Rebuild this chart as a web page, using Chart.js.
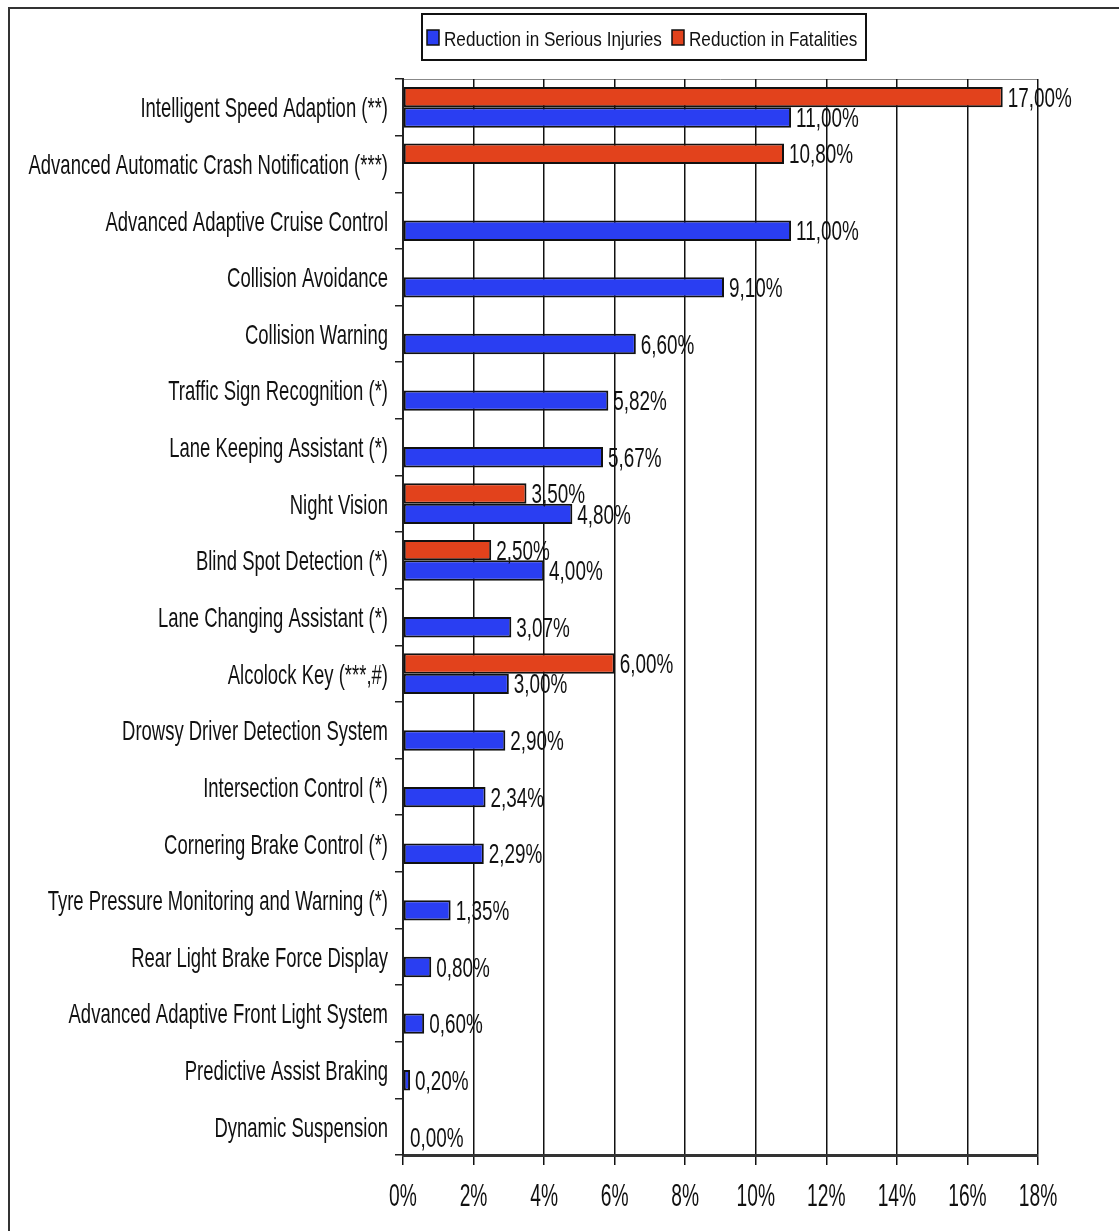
<!DOCTYPE html>
<html>
<head>
<meta charset="utf-8">
<script src="https://cdn.jsdelivr.net/npm/chart.js@4.4.0/dist/chart.umd.min.js"></script>
<style>
  html, body { margin: 0; padding: 0; background: #fff; }
  #wrap { width: 1119px; height: 1231px; position: relative; }
</style>
</head>
<body>
<div id="wrap"><canvas id="safetyChart"></canvas></div>
<script>
const categories = [
  'Intelligent Speed Adaption (**)',
  'Advanced Automatic Crash Notification (***)',
  'Advanced Adaptive Cruise Control',
  'Collision Avoidance',
  'Collision Warning',
  'Traffic Sign Recognition (*)',
  'Lane Keeping Assistant (*)',
  'Night Vision',
  'Blind Spot Detection (*)',
  'Lane Changing Assistant (*)',
  'Alcolock Key (***,#)',
  'Drowsy Driver Detection System',
  'Intersection Control (*)',
  'Cornering Brake Control (*)',
  'Tyre Pressure Monitoring and Warning (*)',
  'Rear Light Brake Force Display',
  'Advanced Adaptive Front Light System',
  'Predictive Assist Braking',
  'Dynamic Suspension'
];
const seriousInjuries = [11.00, null, 11.00, 9.10, 6.60, 5.82, 5.67, 4.80, 4.00, 3.07, 3.00, 2.90, 2.34, 2.29, 1.35, 0.80, 0.60, 0.20, 0.00];
const fatalities = [17.00, 10.80, null, null, null, null, null, 3.50, 2.50, null, 6.00, null, null, null, null, null, null, null, null];
const seriesNames = ['Reduction in Serious Injuries', 'Reduction in Fatalities'];
const xMax = 18;
const xStep = 2;

const FONT = "'Liberation Sans', Arial, sans-serif";
const RED = '#e2421c';
const BLUE = '#2a3ef2';
const INK = '#111';

// plot area edges in the reference
const PLOT_LEFT = 403;
const PLOT_RIGHT = 1038;
const PLOT_TOP = 79;
const PLOT_BOTTOM = 1155;

function pct(v) {
  return v.toFixed(2).replace('.', ',') + '%';
}

// the original uses a very narrow face, so squeeze the text horizontally
function squeezedText(ctx, text, x, y, size, squeeze, align) {
  ctx.save();
  ctx.font = size + 'px ' + FONT;
  ctx.fillStyle = INK;
  ctx.textAlign = align;
  ctx.textBaseline = 'alphabetic';
  ctx.translate(x, y + size * 0.716 / 2);
  ctx.scale(squeeze, 1);
  ctx.fillText(text, 0, 0);
  ctx.restore();
}

// Frame around the whole figure, top line of the plot and the legend
const framePlugin = {
  id: 'frame',
  beforeDraw(chart) {
    const ctx = chart.ctx;
    ctx.save();
    ctx.fillStyle = '#fff';
    ctx.fillRect(0, 0, chart.width, chart.height);
    ctx.strokeStyle = '#333';
    ctx.lineWidth = 2;
    ctx.beginPath();
    ctx.moveTo(9, chart.height + 5);
    ctx.lineTo(9, 8);
    ctx.lineTo(chart.width + 5, 8);
    ctx.stroke();
    const a = chart.chartArea;
    ctx.strokeStyle = '#888';
    ctx.lineWidth = 1;
    ctx.beginPath();
    ctx.moveTo(a.left, a.top + 0.5);
    ctx.lineTo(a.right, a.top + 0.5);
    ctx.stroke();
    ctx.restore();
  },
  afterDraw(chart) {
    const ctx = chart.ctx;
    // legend box
    ctx.save();
    ctx.strokeStyle = INK;
    ctx.lineWidth = 2;
    ctx.strokeRect(422, 14, 444, 46);
    const items = [
      { name: seriesNames[0], color: BLUE, x: 427 },
      { name: seriesNames[1], color: RED, x: 672 }
    ];
    items.forEach(it => {
      ctx.fillStyle = it.color;
      ctx.fillRect(it.x, 30, 12, 15);
      ctx.lineWidth = 1.5;
      ctx.strokeRect(it.x, 30, 12, 15);
      squeezedText(ctx, it.name, it.x + 17, 38, 21, 0.815, 'left');
    });
    ctx.restore();
  }
};

// Category names, x tick labels and value labels
const textPlugin = {
  id: 'texts',
  afterDatasetsDraw(chart) {
    const ctx = chart.ctx;
    const yScale = chart.scales.y;
    const xScale = chart.scales.x;

    categories.forEach((name, i) => {
      squeezedText(ctx, name, 388, yScale.getPixelForTick(i), 28, 0.66, 'right');
    });

    xScale.ticks.forEach(t => {
      squeezedText(ctx, t.value + '%', xScale.getPixelForValue(t.value), 1195, 31, 0.62, 'center');
    });

    chart.data.datasets.forEach((ds, i) => {
      const meta = chart.getDatasetMeta(i);
      meta.data.forEach((bar, j) => {
        const v = ds.data[j];
        if (v === null || v === undefined) return;
        squeezedText(ctx, pct(v), bar.x + (v === 0 ? 7 : 5), bar.y, 27, 0.7, 'left');
      });
    });
  }
};

new Chart(document.getElementById('safetyChart'), {
  type: 'bar',
  data: {
    labels: categories,
    datasets: [
      {
        label: seriesNames[1],
        data: fatalities,
        backgroundColor: RED,
        borderColor: INK,
        borderWidth: 2,
        borderSkipped: false,
        barPercentage: 1,
        categoryPercentage: 0.72
      },
      {
        label: seriesNames[0],
        data: seriousInjuries,
        backgroundColor: BLUE,
        borderColor: INK,
        borderWidth: 2,
        borderSkipped: false,
        barPercentage: 1,
        categoryPercentage: 0.72
      }
    ]
  },
  options: {
    indexAxis: 'y',
    responsive: true,
    maintainAspectRatio: false,
    animation: false,
    layout: {
      padding: { top: PLOT_TOP, left: 0, right: 1119 - PLOT_RIGHT, bottom: 0 }
    },
    scales: {
      x: {
        min: 0,
        max: xMax,
        ticks: { stepSize: xStep, display: false },
        grid: {
          color: INK,
          lineWidth: 1.5,
          tickLength: 10
        },
        border: { display: true, color: '#333', width: 3 },
        afterFit(scale) {
          scale.height = 1231 - PLOT_BOTTOM;
        }
      },
      y: {
        ticks: { display: false },
        grid: {
          offset: true,
          drawOnChartArea: false,
          color: '#222',
          lineWidth: 1.5,
          tickLength: 8
        },
        border: { display: true, color: '#222', width: 2 },
        afterFit(scale) {
          scale.width = PLOT_LEFT;
        }
      }
    },
    plugins: {
      legend: { display: false },
      tooltip: { enabled: false }
    }
  },
  plugins: [framePlugin, textPlugin]
});
</script>
</body>
</html>
